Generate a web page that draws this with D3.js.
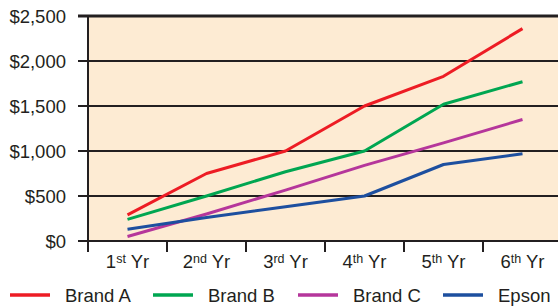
<!DOCTYPE html>
<html>
<head>
<meta charset="utf-8">
<script src="https://cdn.jsdelivr.net/npm/d3@7"></script>
<style>
  body { margin: 0; background: #fff; }
  text { font-family: "Liberation Sans", Arial, sans-serif; fill: #231f20; }
</style>
</head>
<body>
<svg id="chart"></svg>
<script>
// chart data
const yearNums = ["1", "2", "3", "4", "5", "6"];
const yearSups = ["st", "nd", "rd", "th", "th", "th"];
const yTicks = [0, 500, 1000, 1500, 2000, 2500];
const brandA = [290, 750, 1000, 1500, 1830, 2360];
const brandB = [240, 500, 770, 1000, 1520, 1770];
const brandC = [50, 300, 565, 840, 1090, 1350];
const epson = [130, 260, 380, 500, 850, 970];
const seriesNames = ["Brand A", "Brand B", "Brand C", "Epson"];
const seriesColors = ["#ed1c24", "#00a651", "#b5369b", "#1d4f9f"];

const width = 558, height = 306;
const margin = { top: 16, left: 88, bottom: 65 };
const ink = "#231f20";

const svg = d3.select("#chart").attr("width", width).attr("height", height);

const x = d3.scaleBand().domain(yearNums).range([margin.left, 562]);
const y = d3.scaleLinear().domain([0, 2500]).range([height - margin.bottom, margin.top]);

// plot background
svg.append("rect")
  .attr("x", margin.left).attr("y", y(2500))
  .attr("width", width - margin.left).attr("height", y(0) - y(2500))
  .attr("fill", "#fdebd3");

// gridlines + y ticks
svg.append("g").selectAll("line")
  .data(yTicks)
  .join("line")
  .attr("x1", 78).attr("x2", width)
  .attr("y1", d => y(d)).attr("y2", d => y(d))
  .attr("stroke", ink)
  .attr("stroke-width", d => d === 2500 ? 3 : 2);

svg.append("g").selectAll("text")
  .data(yTicks)
  .join("text")
  .attr("x", 66).attr("y", d => y(d))
  .attr("dy", "0.36em")
  .attr("text-anchor", "end")
  .style("font-size", "18.5px")
  .text(d => "$" + d3.format(",")(d));

// left axis
svg.append("line")
  .attr("x1", margin.left).attr("x2", margin.left)
  .attr("y1", y(2500) - 1).attr("y2", y(0) + 11)
  .attr("stroke", ink).attr("stroke-width", 2);

// x ticks at band edges
svg.append("g").selectAll("line")
  .data(yearNums.slice(1))
  .join("line")
  .attr("x1", d => x(d)).attr("x2", d => x(d))
  .attr("y1", y(0)).attr("y2", y(0) + 11)
  .attr("stroke", ink).attr("stroke-width", 2);

// x labels with superscripts
const xl = svg.append("g").selectAll("text")
  .data(yearNums)
  .join("text")
  .attr("x", d => x(d) + x.bandwidth() / 2)
  .attr("y", 268)
  .attr("text-anchor", "middle")
  .style("font-size", "18.5px");
xl.append("tspan").text(d => d);
xl.append("tspan")
  .attr("dy", -5)
  .style("font-size", "12.5px")
  .text((d, i) => yearSups[i]);
xl.append("tspan")
  .attr("dy", 5)
  .text(" Yr");

// series lines
const series = [brandA, brandB, brandC, epson];
const line = d3.line()
  .x((d, i) => x(yearNums[i]) + x.bandwidth() / 2)
  .y(d => y(d));

svg.append("g").selectAll("path")
  .data(series)
  .join("path")
  .attr("d", line)
  .attr("fill", "none")
  .attr("stroke", (d, i) => seriesColors[i])
  .attr("stroke-width", 3)
  .attr("stroke-linejoin", "round");

// legend
const legendX = [10, 153, 298, 443];
const lg = svg.append("g").selectAll("g")
  .data(seriesNames)
  .join("g")
  .attr("transform", (d, i) => `translate(${legendX[i]},295)`);
lg.append("line")
  .attr("x1", 0).attr("x2", 40)
  .attr("stroke", (d, i) => seriesColors[i])
  .attr("stroke-width", 3.5);
lg.append("text")
  .attr("x", 55).attr("dy", "0.36em")
  .style("font-size", "18.5px")
  .text(d => d);
</script>
</body>
</html>
